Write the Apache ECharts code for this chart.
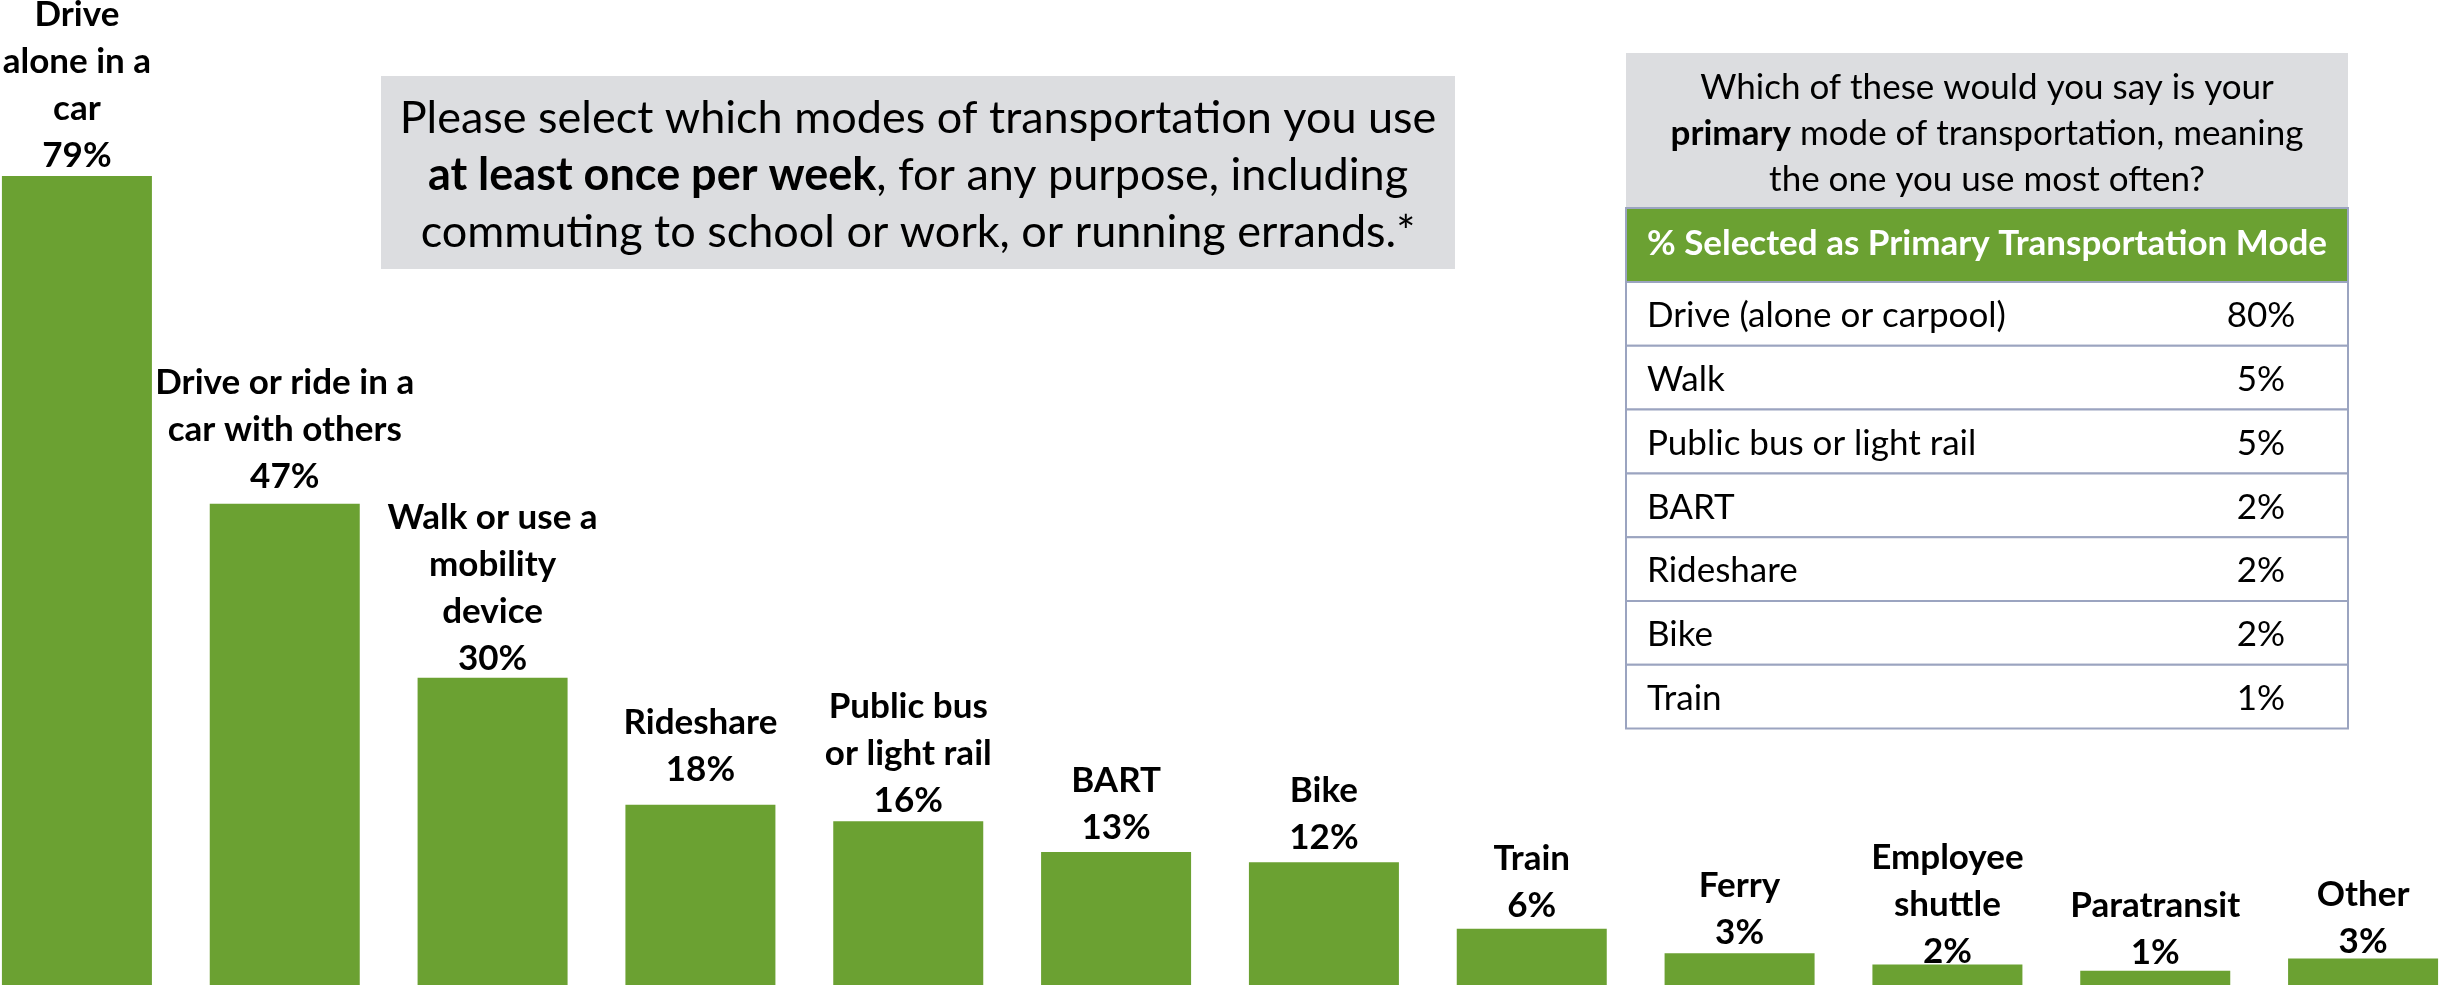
<!DOCTYPE html>
<html>
<head>
<meta charset="utf-8">
<script src="https://cdn.jsdelivr.net/npm/echarts@6/dist/echarts.min.js"></script>
<style>
  html, body { margin: 0; padding: 0; background: #fff; overflow: hidden; }
  /* the first and last bars touch the page edges, so the chart is a bit wider than the page */
  #chart { position: absolute; left: -27px; top: 0; width: 2494px; height: 985px; }
</style>
</head>
<body>
<div id="chart"></div>
<script>
// weekly modes (bars)
const categories = [
  'Drive\nalone in a\ncar',
  'Drive or ride in a\ncar with others',
  'Walk or use a\nmobility\ndevice',
  'Rideshare',
  'Public bus\nor light rail',
  'BART',
  'Bike',
  'Train',
  'Ferry',
  'Employee\nshuttle',
  'Paratransit',
  'Other'
];
const weeklyPct = [79, 47, 30, 17.6, 16, 13, 12, 5.5, 3.1, 2, 1.4, 2.6];

// primary mode table
const tableModes = ['Drive (alone or carpool)', 'Walk', 'Public bus or light rail', 'BART', 'Rideshare', 'Bike', 'Train'];
const tablePcts = ['80%', '5%', '5%', '2%', '2%', '2%', '1%'];

// labels were nudged by hand in the original, so keep a per-bar gap
const labelGap = [-3, 4, -4, 12, -3, 1, 1, -1, -3, -11, -6, -7];

const GREEN = '#6ba132';
const GRAY = '#dcdde0';
const LINE = '#9ba4c0';
const FONT = 'Lato, "Open Sans", sans-serif';
const OX = 27; // page x -> chart x

const chart = echarts.init(document.getElementById('chart'));

const graphic = [];

// question box over the bars
graphic.push({
  type: 'rect',
  shape: { x: 381 + OX, y: 76, width: 1074, height: 193 },
  style: { fill: GRAY }
});
graphic.push({
  type: 'text',
  x: 918 + OX, y: 175,
  style: {
    text: 'Please select which modes of transportation you use\n{b|at least once per week}, for any purpose, including\ncommuting to school or work, or running errands.*',
    fill: '#000',
    font: '45px ' + FONT,
    lineHeight: 57,
    align: 'center',
    verticalAlign: 'middle',
    rich: {
      b: { fontWeight: 'bold', fontSize: 45, fontFamily: FONT, lineHeight: 57 }
    }
  }
});

// table on the right
const tx = 1626 + OX, tw = 722;
graphic.push({
  type: 'rect',
  shape: { x: tx, y: 53, width: tw, height: 155 },
  style: { fill: GRAY }
});
graphic.push({
  type: 'text',
  x: tx + tw / 2, y: 134,
  style: {
    text: 'Which of these would you say is your\n{b|primary} mode of transportation, meaning\nthe one you use most often?',
    fill: '#000',
    font: '35px ' + FONT,
    lineHeight: 46,
    align: 'center',
    verticalAlign: 'middle',
    rich: {
      b: { fontWeight: 'bold', fontSize: 35, fontFamily: FONT, lineHeight: 46 }
    }
  }
});
graphic.push({
  type: 'rect',
  shape: { x: tx, y: 208, width: tw, height: 74 },
  style: { fill: GREEN, stroke: LINE, lineWidth: 2 }
});
graphic.push({
  type: 'text',
  x: tx + tw / 2, y: 244,
  style: {
    text: '% Selected as Primary Transportation Mode',
    fill: '#fff',
    font: 'bold 35px ' + FONT,
    align: 'center',
    verticalAlign: 'middle'
  }
});
const rowTop = 282, rowH = 63.8;
tableModes.forEach((m, i) => {
  const y = rowTop + i * rowH;
  graphic.push({
    type: 'rect',
    shape: { x: tx, y: y, width: tw, height: rowH },
    style: { fill: '#fff', stroke: LINE, lineWidth: 2 }
  });
  graphic.push({
    type: 'text',
    x: tx + 21, y: y + rowH / 2 + 2,
    style: { text: m, fill: '#000', font: '35px ' + FONT, align: 'left', verticalAlign: 'middle' }
  });
  graphic.push({
    type: 'text',
    x: 2261 + OX, y: y + rowH / 2 + 2,
    style: { text: tablePcts[i], fill: '#000', font: '35px ' + FONT, align: 'center', verticalAlign: 'middle' }
  });
});

const option = {
  animation: false,
  backgroundColor: '#fff',
  grid: { left: 0, right: 0, top: 0, bottom: 0 },
  xAxis: {
    type: 'category',
    data: categories,
    show: false
  },
  yAxis: {
    type: 'value',
    min: 0,
    max: 96.2,
    show: false
  },
  series: [
    {
      type: 'bar',
      data: weeklyPct.map((v, i) => ({ value: v, label: { distance: labelGap[i] } })),
      barWidth: 150,
      itemStyle: { color: GREEN },
      label: {
        show: true,
        position: 'top',
        color: '#000',
        fontFamily: FONT,
        fontWeight: 'bold',
        fontSize: 35,
        lineHeight: 47,
        align: 'center',
        formatter: (p) => p.name + '\n' + Math.round(p.value) + '%'
      }
    }
  ],
  graphic: graphic
};

chart.setOption(option);
</script>
</body>
</html>
